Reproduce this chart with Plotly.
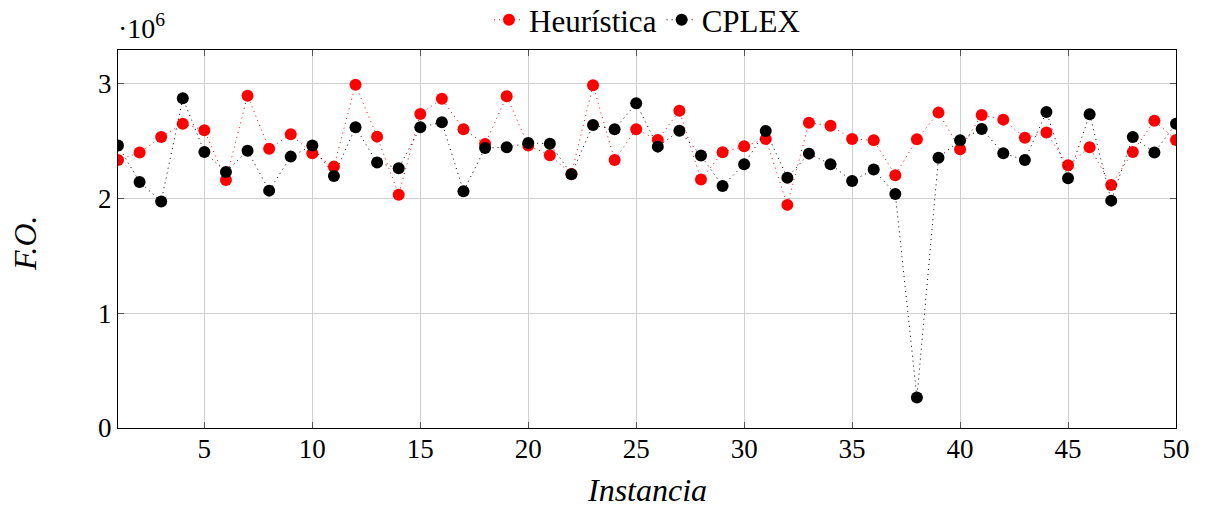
import plotly.graph_objects as go

# Instancia (x) and F.O. values in units of 10^6
instancia = list(range(1, 51))
heuristica = [2.333, 2.397, 2.533, 2.649, 2.591, 2.159, 2.892, 2.431, 2.556, 2.391,
              2.275, 2.988, 2.536, 2.031, 2.733, 2.866, 2.600, 2.472, 2.887, 2.458,
              2.374, 2.211, 2.983, 2.333, 2.600, 2.507, 2.762, 2.162, 2.400, 2.452,
              2.516, 1.942, 2.657, 2.631, 2.516, 2.504, 2.200, 2.513, 2.745, 2.426,
              2.724, 2.684, 2.527, 2.571, 2.287, 2.443, 2.116, 2.403, 2.675, 2.507]
cplex = [2.458, 2.142, 1.971, 2.870, 2.403, 2.229, 2.414, 2.066, 2.362, 2.458,
         2.194, 2.617, 2.310, 2.261, 2.617, 2.661, 2.061, 2.437, 2.443, 2.481,
         2.475, 2.209, 2.637, 2.600, 2.826, 2.449, 2.588, 2.371, 2.107, 2.296,
         2.585, 2.179, 2.388, 2.296, 2.150, 2.249, 2.037, 0.266, 2.353, 2.504,
         2.603, 2.391, 2.333, 2.750, 2.174, 2.730, 1.979, 2.533, 2.397, 2.649]
x_ticks = [5, 10, 15, 20, 25, 30, 35, 40, 45, 50]
y_ticks = [0, 1, 2, 3]

FONT = "Liberation Serif"
DOT = "1px,4px"

fig = go.Figure()
fig.add_trace(go.Scatter(x=instancia, y=heuristica, name="Heurística", mode="lines+markers",
                         line=dict(color="red", width=1, dash=DOT),
                         marker=dict(color="red", size=12)))
fig.add_trace(go.Scatter(x=instancia, y=cplex, name="CPLEX", mode="lines+markers",
                         line=dict(color="black", width=1, dash=DOT),
                         marker=dict(color="black", size=12)))

axis_common = dict(showline=True, linecolor="black", linewidth=1, mirror="ticks",
                   ticks="inside", ticklen=6, tickcolor="#555",
                   showgrid=True, gridcolor="#cfcfcf", gridwidth=1, zeroline=False,
                   tickfont=dict(family=FONT, size=27, color="black"))

fig.update_layout(
    width=1209, height=509,
    paper_bgcolor="white", plot_bgcolor="white",
    margin=dict(l=118, r=33, t=50, b=81, autoexpand=False),
    xaxis=dict(range=[1, 50], tickvals=x_ticks, ticklabelstandoff=-3, **axis_common),
    yaxis=dict(range=[0, 3.29], tickvals=y_ticks, **axis_common),
    legend=dict(orientation="h", x=0.5, xanchor="center", y=1.079, yanchor="middle",
                font=dict(family=FONT, size=31, color="black"), bgcolor="rgba(0,0,0,0)",
                itemwidth=30, tracegroupgap=0),
    showlegend=True,
    annotations=[
        dict(text="·10<sup>6</sup>", xref="paper", yref="paper", x=0.0, y=1.0,
             xanchor="left", yanchor="bottom", showarrow=False, xshift=-2, yshift=4,
             font=dict(family=FONT, size=28, color="black")),
        dict(text="<i>Instancia</i>", xref="paper", yref="paper", x=0.5, y=0,
             xanchor="center", yanchor="middle", showarrow=False, yshift=-62,
             font=dict(family=FONT, size=32, color="black")),
        dict(text="<i>F.O.</i>", xref="paper", yref="paper", x=0, y=0.5,
             xanchor="center", yanchor="middle", showarrow=False, xshift=-93, yshift=-4,
             textangle=-90, font=dict(family=FONT, size=32, color="black")),
    ],
)

fig.write_html("out.html", config={"displayModeBar": False},
               post_script="document.body.style.margin='0';")
